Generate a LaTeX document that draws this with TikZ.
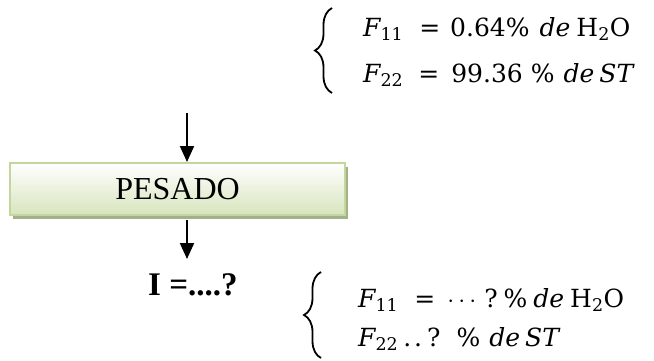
\documentclass[tikz,border=0pt]{standalone}
\usepackage{fontspec}
\setmainfont{Liberation Serif}
\newfontfamily\eqfont{DejaVu Serif}
\usetikzlibrary{arrows.meta,shadows,decorations.pathreplacing}
\definecolor{boxline}{HTML}{C3D69B}
\definecolor{boxbot}{HTML}{D7E4BD}
\definecolor{shad}{HTML}{A3B08C}
\newcommand{\ivar}[1]{{\itshape #1}}
\newcommand{\subs}[1]{\textsubscript{#1}}
\newcommand{\gap}[1]{\hspace*{#1pt}}
\begin{document}
\begin{tikzpicture}[x=1pt,y=-1pt,
  arr/.style={line width=2pt,-{Triangle[width=14pt,length=16pt]}},
  procbox/.style={draw=boxline,line width=2pt,top color=white,bottom color=boxbot,
    minimum width=335pt,minimum height=52pt,inner sep=0pt,font=\fontsize{32}{36}\selectfont,
    drop shadow={shadow xshift=3pt,shadow yshift=-4pt,fill=shad,opacity=1}},
  eq/.style={anchor=base west,inner sep=0pt,font=\eqfont\fontsize{25}{28}\selectfont},
  lbl/.style={anchor=base west,inner sep=0pt,font=\fontsize{33}{36}\selectfont\bfseries},
  brc/.style={decorate,decoration={brace,amplitude=17pt},line width=1.8pt}]
\useasboundingbox (0,0) rectangle (654,360);
% top data
\node[eq] (t1) at (363,36) {\ivar{F}\subs{11}\gap{16}=\gap{10}0.64\%\gap{10}\ivar{de}\gap{6}H\subs{2}O};
\node[eq] (t2) at (363,82) {\ivar{F}\subs{22}\gap{15}=\gap{12}99.36\gap{8}\%\gap{9}\ivar{de}\gap{5}\ivar{ST}};
\draw[brc] (332,93) -- (332,8);
% process
\node[procbox] (box) at (177.5,189) {PESADO};
\coordinate (in) at (187,113);
\coordinate (out) at (187,259);
\draw[arr] (in) -- (in |- box.north);
\draw[arr] (box.south -| out) ++(0,4) coordinate (outs) (outs) -- (out);
% result
\node[lbl] (res) at (148,295) {I =....?};
\node[eq] (b1) at (358,307) {\ivar{F}\subs{11}\gap{16}=\gap{12}$\cdots$\gap{8}?\gap{6}\%\gap{6}\ivar{de}\gap{6}H\subs{2}O};
\node[eq] (b2) at (358,346) {\ivar{F}\subs{22}\gap{5}.\gap{3}.\gap{5}?\gap{16}\%\gap{9}\ivar{de}\gap{5}\ivar{ST}};
\draw[brc] (321,358) -- (321,272);
\end{tikzpicture}
\end{document}
